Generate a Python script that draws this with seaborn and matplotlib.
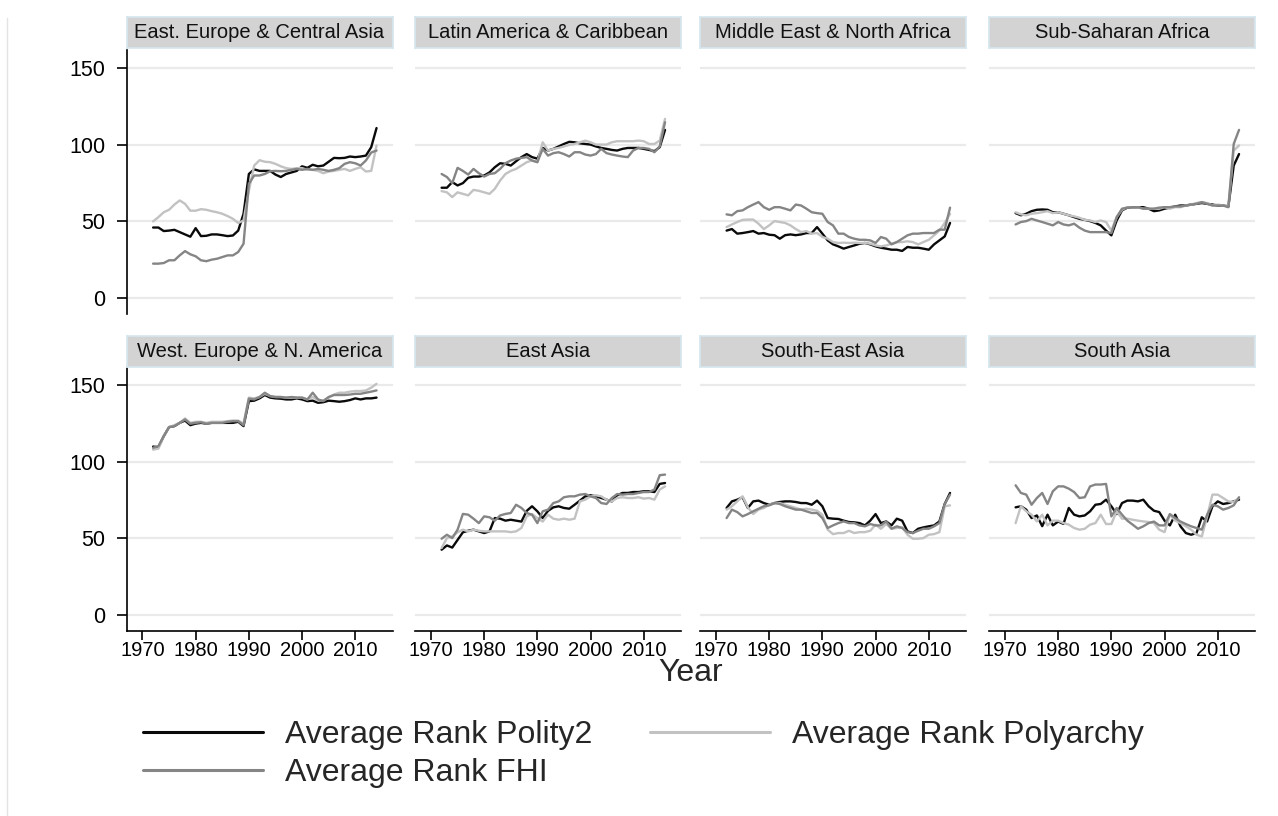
import matplotlib
matplotlib.use("Agg")
import matplotlib.pyplot as plt
from matplotlib.lines import Line2D
import pandas as pd
import seaborn as sns

sns.set_theme(style="white")
plt.rcParams["font.family"] = ["Liberation Sans", "DejaVu Sans"]

# -----------------------
# DATA (1972-2014)
# -----------------------
years = list(range(1972, 2015))

regions = [
    "East. Europe & Central Asia", "Latin America & Caribbean",
    "Middle East & North Africa", "Sub-Saharan Africa",
    "West. Europe & N. America", "East Asia",
    "South-East Asia", "South Asia",
]
measures = ["Average Rank Polity2", "Average Rank Polyarchy", "Average Rank FHI"]

eeca_polity2 = [46, 46, 43.7, 44, 44.5, 43, 41.5, 40, 45.6, 40.4,
                40.6, 41.5, 41.5, 41, 40.4, 40.8, 44, 55, 81, 84,
                83, 83, 83, 80.6, 79, 81, 82, 83, 86, 85,
                87, 86, 86.5, 89, 91.5, 91.3, 91.5, 92.4, 92, 92.4,
                93, 98.5, 111]
eeca_polyarchy = [50, 52.8, 56, 57.6, 61, 63.7, 61.5, 57, 57, 58,
                  57.6, 56.7, 56, 55, 53.5, 51.7, 49, 50.6, 70, 86.5,
                  90, 89, 88.7, 87.6, 86, 84.8, 84.3, 84.8, 84.8, 83.7,
                  83.7, 83, 81.5, 82.6, 83, 83.7, 84.3, 83, 84.3, 85.4,
                  82.6, 83, 99.6]
eeca_fhi = [22.4, 22.4, 22.8, 24.6, 24.6, 27.8, 30.6, 28.5, 27.2, 24.6,
            24, 25, 25.6, 26.7, 27.8, 27.8, 30, 35.4, 74.6, 80,
            80, 81, 82.8, 83, 82.8, 83, 83.7, 84.3, 83.7, 84.3,
            83.7, 84.3, 83.7, 83, 83.7, 84.8, 87.6, 88.7, 88, 86.5,
            89.8, 95, 96.3]

lac_polity2 = [72, 72, 75.7, 73.5, 75, 78.5, 79.3, 79.3, 80, 82,
               85.4, 88, 87.6, 86.5, 89.3, 92, 94, 92, 91, 98,
               96.3, 97.4, 99, 100.6, 102, 101.7, 101, 100.6, 100.2, 99,
               98, 97.4, 96.7, 96.3, 97.4, 98, 98, 98, 97.4, 96.7,
               95.9, 98.5, 109.8]
lac_polyarchy = [69.8, 69, 65.9, 69, 68, 67, 70.6, 70, 69, 68,
                 71.3, 76.7, 81, 83, 84.3, 86.5, 88.7, 89.8, 88.7, 101.7,
                 96.3, 97.4, 98, 99, 100, 100.6, 101.7, 102.8, 101.7, 100.2,
                 100.2, 100.2, 101.7, 102.4, 102.4, 102.4, 102.4, 102.8, 102.4, 100.6,
                 100.6, 102.8, 117]
lac_fhi = [81, 79, 75, 85, 83, 80.6, 84.3, 81.5, 79.3, 81,
           81.5, 84.3, 88, 89.8, 91, 91.5, 92, 89.8, 88.7, 97.4,
           93, 94.6, 95.2, 94, 92.4, 95.2, 95.2, 93.7, 93, 94,
           97.4, 94.6, 93.7, 93, 92.4, 92, 96.3, 98, 98, 97.4,
           95.2, 99, 114.8]

mena_polity2 = [44, 45, 42, 42.4, 43, 43.7, 42, 42.4, 41.3, 41,
                38.7, 41, 41.5, 41, 41.5, 42.4, 42.4, 46.3, 42, 37.6,
                35, 33.7, 32.2, 33.3, 34.3, 35.4, 35.9, 35, 33.7, 32.8,
                32.2, 31.5, 31.5, 30.7, 33.3, 32.8, 32.8, 32.2, 31.5, 35,
                37.6, 40.2, 49]
mena_polyarchy = [46.3, 48, 49.6, 51, 51.2, 51.2, 48.5, 45, 47.4, 50.2,
                  49.6, 49, 47.4, 45, 43, 43.7, 42, 42.4, 39.8, 38.7,
                  36.5, 35.9, 36.1, 35.9, 36.1, 35.9, 35.9, 35.4, 34.3, 33.7,
                  34.3, 35.4, 36.5, 36.5, 37, 36.5, 35, 36.5, 38, 40.9,
                  44, 49, 55]
mena_fhi = [54.6, 54, 56.7, 57.2, 59.3, 61, 62.6, 59.3, 57.6, 59.3,
            59.3, 58.3, 57.2, 61, 60.4, 58.3, 56, 55.4, 55, 49.6,
            47.4, 42, 42, 39.8, 38.7, 38, 38, 37.6, 35.9, 39.8,
            38.7, 35, 36.5, 38.7, 40.9, 42, 42, 42.4, 42.4, 42.4,
            44.6, 44.6, 59]

ssa_polity2 = [55.4, 54, 55, 56.7, 57.6, 57.8, 57.6, 56, 56, 55,
               54, 52.8, 51.7, 51, 50.2, 49, 47.4, 44, 40.9, 50.6,
               57.2, 59, 59, 59.3, 59.3, 58.3, 56.7, 57.2, 58.3, 59,
               59.8, 60.4, 60.4, 61, 61.5, 62, 61.5, 61, 60.4, 60.4,
               59.8, 86.5, 94]
ssa_polyarchy = [56, 54.6, 54, 55, 55.4, 56, 56.7, 55.4, 56, 55,
                 54, 53.3, 52.4, 51, 50.6, 49.6, 50.6, 49.6, 44, 52.8,
                 57.6, 59.3, 59, 59.3, 58.3, 58.3, 58.3, 58.3, 59.3, 58.3,
                 59.3, 59.3, 60.4, 61, 62, 62.6, 62, 60.4, 61, 60.4,
                 60.4, 96.3, 99.6]
ssa_fhi = [48, 49.6, 50.2, 51.7, 50.6, 49.6, 48.5, 47.4, 49.6, 48,
           47.4, 48.5, 45.9, 44, 43, 43, 43, 43, 42.4, 52.8,
           58.3, 59, 59.3, 59.3, 58.3, 58.3, 58.3, 59, 59.3, 59.3,
           59.8, 59.8, 60.4, 61, 61.5, 62.6, 61.5, 60.4, 60.4, 60.4,
           59.3, 100.6, 109.8]

wena_polity2 = [110, 109.6, 116.8, 122.7, 123.4, 125.5, 127, 124, 125, 125.5,
                125, 125.5, 125.5, 125.5, 125.5, 125.5, 126.2, 123.4, 139.7, 140,
                141.5, 143.7, 142, 141.5, 141.3, 140.8, 140.8, 141.5, 140.8, 139.7,
                140, 138.6, 139, 140, 139.7, 139.3, 139.7, 140.4, 141.5, 140.8,
                141.5, 141.5, 142]
wena_polyarchy = [108, 108.7, 116.8, 122.7, 124, 125.5, 128.4, 125.5, 126.2, 126.2,
                  125.5, 126.2, 126.2, 126.2, 126.6, 127, 127, 125, 142, 141.5,
                  142.4, 144.5, 143, 142.4, 142.4, 142, 142, 142, 142, 140.8,
                  142.4, 140.2, 140.2, 142, 144, 145.2, 145.2, 145.9, 146.3, 146.3,
                  146.7, 148.5, 151]
wena_fhi = [109.2, 110.3, 116.8, 122.7, 123.4, 125.5, 127.7, 124.9, 125.5, 125.9,
            124.9, 125.5, 125.5, 125.5, 126.2, 126.6, 126.6, 124, 141.3, 140.8,
            142.4, 145.2, 143, 142.4, 142.4, 142, 142.4, 142, 142, 140.8,
            145.2, 140.8, 139.7, 142.4, 143.7, 143.7, 143.7, 144, 144.5, 144.5,
            145.2, 145.9, 146.7]

ea_polity2 = [42.6, 45.4, 44, 49, 54, 55, 55.7, 54.6, 53.5, 54.6,
              63.3, 62.9, 61.6, 62.2, 61.6, 61, 68, 71, 67.7, 63.3,
              68, 70.3, 71, 69.9, 69.4, 72, 74.7, 77.5, 78.2, 77.5,
              76.4, 75.3, 74.2, 78.2, 79.7, 79.7, 80.3, 80.3, 80.8, 80.8,
              80.3, 85.6, 86.2]
ea_polyarchy = [43.7, 50.2, 51.3, 54, 55.7, 54.6, 55.7, 55, 54.6, 54.6,
                54.6, 54.6, 54.6, 54.1, 54.6, 56.8, 64.4, 65.9, 63.3, 61,
                65.5, 62.9, 62.2, 62.9, 62.2, 62.9, 74.2, 75.3, 77.5, 78.2,
                77.5, 75.3, 74.2, 76.4, 76.9, 76.4, 76.4, 76.9, 76, 76.4,
                75.3, 81.9, 84]
ea_fhi = [49.8, 52.4, 50.2, 55.7, 66, 65.5, 62.9, 60, 64.4, 63.8,
          61.6, 65, 66, 66.6, 72, 69.9, 66.6, 65.5, 60, 67.7,
          68.8, 73.1, 74.2, 76.9, 77.5, 77.5, 78.6, 79, 77.5, 76.4,
          73.1, 72.5, 76.4, 79, 78.6, 79, 79, 79.7, 80.3, 80.3,
          81.9, 91.3, 91.7]

sea_polity2 = [69.9, 74.2, 75.3, 76.9, 69.9, 74.2, 74.7, 73.1, 72, 73.1,
               73.8, 74.2, 74.2, 73.8, 73.1, 73.1, 72, 74.7, 71, 63.3,
               62.9, 62.7, 61.6, 60.7, 60.5, 60, 58.5, 61.6, 65.9, 60,
               61.1, 58.5, 62.9, 61.6, 54.6, 53.5, 56.3, 57.2, 57.9, 58.5,
               61.1, 72.5, 79.7]
sea_polyarchy = [68.8, 71, 74.2, 77.5, 70.3, 65.9, 68.8, 69.9, 72, 73.1,
                 73.1, 72, 71, 69.9, 68.8, 69.4, 68.8, 68.1, 65.5, 55.7,
                 52.8, 53.5, 53.5, 55, 53.5, 54.1, 54.1, 55, 59, 56.3,
                 59.4, 56.3, 56.8, 57.2, 52.4, 49.8, 49.8, 50.2, 52.4, 52.8,
                 54.1, 71, 71.6]
sea_fhi = [63.3, 68.8, 67.2, 64.4, 65.9, 67.7, 69.4, 71, 71.6, 73.1,
           72.5, 71, 69.9, 68.8, 68.8, 67.7, 66.6, 66.6, 63.3, 56.8,
           58.5, 60, 61.1, 60, 60, 58.5, 57.9, 59.4, 58.5, 58.5,
           61.1, 56.3, 57.9, 56.8, 54.1, 53.5, 55, 56.3, 56.3, 57.9,
           60, 72.5, 78.6]

sa_polity2 = [70.3, 71, 68.8, 63.3, 65, 58, 65.5, 58.5, 61, 59.5,
              69.9, 65.5, 64.4, 65, 67.7, 72, 72.5, 75.3, 71, 65.9,
              73.1, 74.7, 74.7, 74.2, 75.3, 71, 68.1, 67.2, 61.6, 58.5,
              65.5, 57.9, 53.5, 52.4, 53.5, 63.8, 61.1, 71, 74.2, 72.5,
              73.1, 74.2, 75.3]
sa_polyarchy = [60, 71, 67.7, 65.5, 61.1, 65.5, 58.5, 61.6, 61.6, 60,
                59, 56.8, 55.7, 56.3, 59, 60, 65.5, 59.4, 59.4, 67.7,
                62.9, 62.9, 62.2, 61.6, 61.1, 60.7, 60, 55.7, 54.1, 65.5,
                61.6, 60, 57.9, 55.7, 52.4, 51.3, 64.4, 78.6, 78.6, 76.4,
                74.2, 73.8, 76.4]
sa_fhi = [84.7, 79.7, 78.6, 72, 76.4, 79.7, 72.5, 80.8, 84, 84,
          82.5, 80.3, 76.4, 76.9, 84, 85.2, 85.2, 85.6, 64.4, 69.9,
          65.5, 61.6, 59, 56.3, 57.9, 60, 61, 58.5, 58.5, 65.9,
          63.3, 61, 59.4, 57.9, 56.8, 55.7, 65.5, 72, 71, 68.8,
          69.9, 71.6, 76.9]

region_series = {
    regions[0]: (eeca_polity2, eeca_polyarchy, eeca_fhi),
    regions[1]: (lac_polity2, lac_polyarchy, lac_fhi),
    regions[2]: (mena_polity2, mena_polyarchy, mena_fhi),
    regions[3]: (ssa_polity2, ssa_polyarchy, ssa_fhi),
    regions[4]: (wena_polity2, wena_polyarchy, wena_fhi),
    regions[5]: (ea_polity2, ea_polyarchy, ea_fhi),
    regions[6]: (sea_polity2, sea_polyarchy, sea_fhi),
    regions[7]: (sa_polity2, sa_polyarchy, sa_fhi),
}

rows = []
for region, series in region_series.items():
    for measure, vals in zip(measures, series):
        for yr, v in zip(years, vals):
            rows.append({"Region": region, "Measure": measure, "Year": yr, "Rank": v})
df = pd.DataFrame(rows)

palette = {
    "Average Rank Polity2": "#0a0a0a",
    "Average Rank Polyarchy": "#c2c2c2",
    "Average Rank FHI": "#858585",
}

# -----------------------
# FIGURE SETUP (pixel layout)
# -----------------------
W, H = 1278, 816
fig = plt.figure(figsize=(W / 100, H / 100), dpi=100)

col_left = [126.5, 415, 700, 989]
row_top = [50, 367]
strip_gap = [2, 0]
panel_w, panel_h, strip_h = 266, 264, 31

for i, region in enumerate(regions):
    r, c = divmod(i, 4)
    left, top = col_left[c], row_top[r]
    ax = fig.add_axes([left / W, 1 - (top + panel_h) / H, panel_w / W, panel_h / H])

    sns.lineplot(data=df[df["Region"] == region], x="Year", y="Rank",
                 hue="Measure", hue_order=measures, palette=palette,
                 linewidth=1.7, legend=False, ax=ax)

    ax.set_xlim(1967, 2017)
    ax.set_ylim(-10.5, 162)
    ax.set_yticks([0, 50, 100, 150])
    ax.set_xticks([1970, 1980, 1990, 2000, 2010])
    ax.grid(axis="y", color="#eaeaea", linewidth=1.6)
    ax.grid(axis="x", visible=False)
    ax.set_axisbelow(True)
    ax.set_xlabel("")
    ax.set_ylabel("")
    for sp in ax.spines.values():
        sp.set_visible(False)

    if c == 0:
        ax.spines["left"].set_visible(True)
        ax.spines["left"].set_color("black")
        ax.spines["left"].set_linewidth(1.2)
        ax.tick_params(axis="y", left=True, length=7, width=1.2, color="black",
                       labelsize=15.5, pad=8, labelcolor="black")
    else:
        ax.tick_params(axis="y", left=False, labelleft=False)

    if r == 1:
        ax.spines["bottom"].set_visible(True)
        ax.spines["bottom"].set_color("black")
        ax.spines["bottom"].set_linewidth(1.2)
        ax.tick_params(axis="x", bottom=True, length=6.5, width=1.2, color="black",
                       labelsize=14.5, pad=0.5, labelcolor="black")
    else:
        ax.tick_params(axis="x", bottom=False, labelbottom=False)

    # strip label
    s_bottom = top - strip_gap[r]
    sax = fig.add_axes([left / W, 1 - s_bottom / H, panel_w / W, strip_h / H])
    sax.set_facecolor("#d3d3d3")
    sax.set_xticks([])
    sax.set_yticks([])
    for sp in sax.spines.values():
        sp.set_color("#d5e6ee")
        sp.set_linewidth(1.2)
    sax.text(0.5, 0.5, region, ha="center", va="center", fontsize=14.5,
             color="#111111", transform=sax.transAxes)

# -----------------------
# AXIS TITLE + LEGEND
# -----------------------
fig.text(690.7 / W, 1 - 673 / H, "Year", ha="center", va="center", fontsize=23)

handles = [Line2D([], [], color=palette[m], linewidth=2.2) for m in measures]
order = [0, 2, 1]
fig.legend([handles[k] for k in order], [measures[k] for k in order],
           loc="center left", bbox_to_anchor=(143 / W, 1 - 754 / H),
           ncol=2, frameon=False, fontsize=23, handlelength=3.75,
           handletextpad=0.7, columnspacing=1.8, labelspacing=0.24,
           borderpad=0, borderaxespad=0)

fig.add_artist(Line2D([7 / W, 7 / W], [0, 1 - 18 / H], color="#e3e3e3", linewidth=1))

fig.savefig("out.png", dpi=100)
